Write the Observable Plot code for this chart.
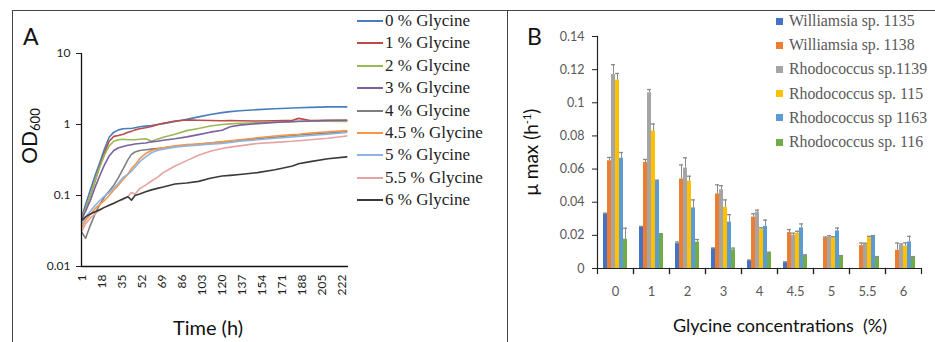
<!DOCTYPE html>
<html><head><meta charset="utf-8">
<script src="https://cdn.jsdelivr.net/npm/d3@7"></script>
<script src="https://cdn.jsdelivr.net/npm/@observablehq/plot@0.6"></script>
<style>
body{margin:0;background:#fff;}
#root{position:relative;width:935px;height:342px;overflow:hidden;font-family:Lato,"Open Sans",sans-serif;}
.abs{position:absolute;white-space:nowrap;}
.leg{font-family:"Liberation Serif",serif;font-size:17px;line-height:17px;}
.legB{font-family:"Liberation Serif",serif;font-size:15.8px;line-height:17px;}
</style></head><body><div id="root"></div>
<script>
// ---------- Panel A data ----------
const timeH = [1,4,8,12,16,20,24,28,32,36,40,43,46,50,55,60,65,70,80,90,100,110,120,127,135,150,165,180,185,195,210,226];
const od0  = [0.052,0.075,0.12,0.19,0.29,0.45,0.66,0.78,0.84,0.87,0.88,0.88,0.90,0.93,0.95,0.97,1.00,1.03,1.10,1.18,1.28,1.38,1.47,1.52,1.56,1.62,1.67,1.71,1.72,1.74,1.77,1.77];
const od1  = [0.047,0.065,0.10,0.16,0.26,0.40,0.58,0.68,0.70,0.73,0.78,0.80,0.84,0.87,0.90,0.94,0.99,1.04,1.12,1.16,1.15,1.14,1.13,1.14,1.13,1.12,1.13,1.15,1.22,1.14,1.15,1.15];
const od2  = [0.050,0.065,0.10,0.16,0.25,0.37,0.50,0.58,0.61,0.62,0.61,0.61,0.61,0.62,0.63,0.58,0.62,0.66,0.73,0.82,0.88,0.95,1.00,1.02,1.04,1.06,1.08,1.09,1.10,1.11,1.11,1.10];
const od3  = [0.048,0.060,0.085,0.13,0.19,0.27,0.36,0.43,0.47,0.49,0.51,0.52,0.53,0.54,0.55,0.57,0.58,0.60,0.63,0.67,0.72,0.78,0.83,0.93,0.98,1.03,1.07,1.10,1.11,1.12,1.14,1.15];
const od4  = [0.030,0.025,0.038,0.055,0.075,0.095,0.115,0.14,0.18,0.24,0.32,0.38,0.41,0.43,0.44,0.45,0.46,0.47,0.49,0.51,0.53,0.55,0.57,0.58,0.60,0.63,0.66,0.70,0.71,0.73,0.76,0.79];
const od45 = [0.036,0.045,0.054,0.065,0.075,0.085,0.10,0.12,0.14,0.17,0.20,0.24,0.27,0.33,0.39,0.43,0.45,0.47,0.50,0.52,0.53,0.55,0.57,0.59,0.61,0.65,0.69,0.72,0.73,0.76,0.79,0.82];
const od5  = [0.040,0.050,0.060,0.072,0.085,0.098,0.11,0.128,0.15,0.18,0.20,0.22,0.25,0.30,0.35,0.40,0.43,0.45,0.48,0.50,0.51,0.53,0.54,0.56,0.58,0.61,0.64,0.67,0.68,0.70,0.73,0.77];
const od55 = [0.032,0.040,0.048,0.055,0.062,0.068,0.073,0.078,0.083,0.088,0.097,0.11,0.104,0.125,0.14,0.16,0.18,0.21,0.26,0.31,0.37,0.42,0.46,0.48,0.50,0.54,0.56,0.58,0.59,0.61,0.64,0.69];
const od6  = [0.045,0.050,0.055,0.059,0.063,0.068,0.073,0.078,0.084,0.090,0.096,0.086,0.100,0.105,0.113,0.120,0.126,0.132,0.145,0.150,0.158,0.175,0.188,0.192,0.198,0.21,0.23,0.26,0.28,0.30,0.33,0.35];
const seriesA = ["0 % Glycine","1 % Glycine","2 % Glycine","3 % Glycine","4 % Glycine","4.5 % Glycine","5 % Glycine","5.5 % Glycine","6 % Glycine"];
const valuesA = [od0,od1,od2,od3,od4,od45,od5,od55,od6];
const xTicksA = [1,18,35,52,69,86,103,120,137,154,171,188,205,222];
const yTicksA = [0.01,0.1,1,10];

// ---------- Panel B data ----------
const groups = ["0","1","2","3","4","4.5","5","5.5","6"];
const strains = ["Williamsia sp. 1135","Williamsia sp. 1138","Rhodococcus sp.1139","Rhodococcus sp. 115","Rhodococcus sp 1163","Rhodococcus sp. 116"];
const mu1135 = [0.033,0.025,0.015,0.012,0.0048,0.0036,null,null,null];
const mu1138 = [0.065,0.064,0.054,0.045,0.031,0.0217,0.0184,0.0138,0.011];
const mu1139 = [0.117,0.106,0.0606,0.0475,0.034,0.0201,0.019,0.0148,0.014];
const mu115x = [0.1137,0.083,0.0527,0.037,0.0238,0.0213,0.0186,0.0186,0.0135];
const mu1163 = [0.0665,0.053,0.0366,0.028,0.0254,0.0245,0.0227,0.0196,0.016];
const mu116x = [0.0177,0.0205,0.0159,0.0113,0.0096,0.008,0.0076,0.007,0.007];
const sd1135 = [0.0004,0.0004,0.001,0.0004,0.0003,0.0004,null,null,null];
const sd1138 = [0.002,0.0018,0.0085,0.0055,0.002,0.0018,0.0006,0.0016,0.0044];
const sd1139 = [0.006,0.002,0.0062,0.0025,0.0012,0.0012,0.0008,0.0005,0.0008];
const sd115x = [0.004,0.0042,0.003,0.0044,0.0008,0.0012,0.0006,0.0008,0.002];
const sd1163 = [0.0035,0.0003,0.0048,0.0045,0.0038,0.0024,0.0017,0.0003,0.0034];
const sd116x = [0.0066,0.0005,0.0016,0.001,0.0002,0.0002,0.0002,0.0002,0.0002];
const yTicksB = [0,0.02,0.04,0.06,0.08,0.1,0.12,0.14];

// ---------- styles ----------
const colorsA = ["#4a7ebb","#be4b48","#98b954","#7d60a0","#7f7f7f","#f79646","#8eb4e3","#e6a3a1","#3a3a3a"];
const colorsB = ["#4472c4","#ed7d31","#a5a5a5","#ffc000","#5b9bd5","#70ad47"];

const root = document.getElementById("root");
function addDiv(html, css, cls="abs"){const d=document.createElement("div");d.className=cls;d.innerHTML=html;d.style.cssText=css;root.appendChild(d);return d;}

// borders
addDiv("", "left:12px;top:10px;width:930px;height:0;border-top:1.5px solid #444;");
addDiv("", "left:12px;top:10px;width:0;height:340px;border-left:1.5px solid #444;");
addDiv("", "left:507px;top:10px;width:0;height:340px;border-left:1.5px solid #444;");

// ---------- Panel A ----------
const rowsA = seriesA.flatMap((s,i)=>timeH.map((t,j)=>({series:s,t,v:valuesA[i][j]})));
const plotA = Plot.plot({
  width:360, height:342, marginLeft:81, marginRight:12, marginTop:53, marginBottom:76,
  style:{fontFamily:"Lato",fontSize:"12px",color:"#222",background:"transparent",overflow:"visible"},
  x:{type:"linear",domain:[0.5,227.5]},
  y:{type:"log",domain:[0.01,10]},
  color:{domain:seriesA,range:colorsA},
  marks:[
    Plot.axisY({ticks:yTicksA,tickFormat:d=>String(d),tickSize:5,tickPadding:6,label:null,stroke:"#222"}),
    Plot.axisX({ticks:xTicksA,tickFormat:d=>String(d),tickRotate:-90,tickSize:0,tickPadding:8,label:null}),
    Plot.line(rowsA,{x:"t",y:"v",z:"series",stroke:"series",strokeWidth:1.6}),
    Plot.ruleX([0.5],{stroke:"#111",strokeWidth:1.3}),
    Plot.ruleY([0.01],{stroke:"#111",strokeWidth:1.3})
  ]
});
plotA.style.position="absolute";plotA.style.left="0px";plotA.style.top="0px";
root.appendChild(plotA);

addDiv("A","left:23px;top:22px;font-size:23px;color:#111;");
addDiv("OD<sub style='font-size:13px;vertical-align:-3px'>600</sub>","left:29px;top:136px;font-size:21px;color:#111;transform:translate(-50%,-50%) rotate(-90deg);");
addDiv("Time (h)","left:208px;top:327px;font-size:20px;color:#111;transform:translate(-50%,-50%);");

seriesA.forEach((s,i)=>{
  const y=21+22.4*i;
  addDiv("", `left:357px;top:${y-1}px;width:26px;height:0;border-top:2px solid ${colorsA[i]};`);
  addDiv(s, `left:385px;top:${y-9}px;color:#222;`, "abs leg");
});

// ---------- Panel B ----------
const muB=[mu1135,mu1138,mu1139,mu115x,mu1163,mu116x];
const sdB=[sd1135,sd1138,sd1139,sd115x,sd1163,sd116x];
const rowsB = groups.flatMap((g,gi)=>strains.map((s,si)=>({group:g,strain:s,value:muB[si][gi],err:sdB[si][gi]}))).filter(d=>d.value!=null);
const plotB = Plot.plot({
  width:428, height:342, marginLeft:88, marginRight:13, marginTop:36, marginBottom:74,
  style:{fontFamily:"Lato",fontSize:"12.5px",color:"#595959",background:"transparent",overflow:"visible"},
  fx:{domain:groups,padding:0,label:null},
  x:{domain:strains,paddingInner:0.05,paddingOuter:0.84,axis:null},
  y:{domain:[0,0.14]},
  color:{domain:strains,range:colorsB},
  marks:[
    Plot.axisY({ticks:yTicksB,tickFormat:d=>String(+d.toFixed(2)),tickSize:5,tickPadding:8,label:null,stroke:"#222"}),
    Plot.axisFx({anchor:"bottom",tickSize:0,tickPadding:18,label:null,fontSize:13}),
    Plot.barY(rowsB,{fx:"group",x:"strain",y:"value",fill:"strain"}),
    Plot.ruleX(rowsB,{fx:"group",x:"strain",y1:"value",y2:d=>d.value+d.err,stroke:"#8a8a8a",strokeWidth:1}),
    Plot.tickY(rowsB,{fx:"group",x:"strain",y:d=>d.value+d.err,stroke:"#8a8a8a",strokeWidth:1.3}),
    Plot.ruleY([0],{stroke:"#222",strokeWidth:1.2}),
    Plot.frame({anchor:"left",insetTop:232,insetBottom:-5,stroke:"#222",strokeWidth:1.2}),
    Plot.frame({anchor:"right",insetTop:232,insetBottom:-5,stroke:"#222",strokeWidth:1.2}),
    Plot.frame({anchor:"left",facet:"super",stroke:"#222",strokeWidth:1.2})
  ]
});
plotB.style.position="absolute";plotB.style.left="507px";plotB.style.top="0px";
root.appendChild(plotB);

addDiv("B","left:527px;top:22px;font-size:23px;color:#111;");
addDiv("μ max (h<sup style='font-size:11px;vertical-align:7px'>-1</sup>)","left:530px;top:152px;font-size:19px;color:#111;transform:translate(-50%,-50%) rotate(-90deg);");
addDiv("Glycine concentrations&nbsp;&nbsp;(%)","left:780px;top:325px;font-size:18px;color:#111;transform:translate(-50%,-50%);");

strains.forEach((s,i)=>{
  const y=21+24.2*i;
  addDiv("", `left:776px;top:${y-3.5}px;width:7px;height:7px;background:${colorsB[i]};`);
  addDiv(s, `left:789px;top:${y-9}px;color:#595959;`, "abs legB");
});
</script></body></html>
